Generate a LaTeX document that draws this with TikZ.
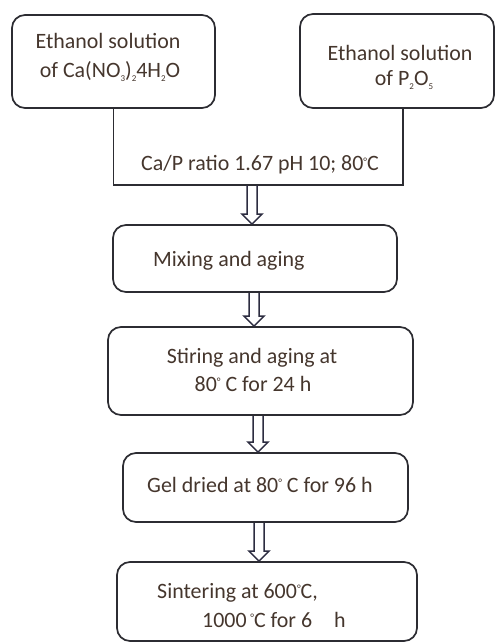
\documentclass[tikz,border=0pt]{standalone}
\usepackage{fontspec}
\setmainfont{Carlito}
\usetikzlibrary{calc}
\definecolor{ink}{HTML}{45362D}
\definecolor{edge}{HTML}{2C2C32}
\definecolor{arrowink}{HTML}{2C2C40}
% small lowered subscript and small raised degree sign
\newcommand\sbs[1]{\raisebox{-0.35ex}{\fontsize{9}{9}\selectfont #1}}
\newcommand\dgr{\raisebox{0.55ex}{\fontsize{11}{11}\selectfont\textdegree}}
% hollow block arrow between two named points: #1 = x position (bp)
\newcommand\flowarrow[3]{%
  \draw[flow] let \p1=(#2), \p2=(#3) in
    (#1bp-5bp,\y1) -- (#1bp-5bp,\y2+10bp) -- (#1bp-10bp,\y2+10bp) --
    (#1bp,\y2) -- (#1bp+10bp,\y2+10bp) -- (#1bp+5bp,\y2+10bp) -- (#1bp+5bp,\y1);}
\begin{document}
\begin{tikzpicture}[x=1bp,y=-1bp,
  box/.style={draw=edge, line width=1.7bp, rounded corners=13bp, inner sep=0pt},
  lbl/.style={text=ink, font=\fontsize{22}{26}\selectfont, inner sep=0pt},
  link/.style={draw=edge, line width=1.7bp},
  flow/.style={draw=arrowink, line width=1.5bp, line join=miter}]
\useasboundingbox (0,0) rectangle (497,644);

\coordinate (ubr) at (403,185);
\coordinate (jB) at (403,108);

% boxes
\node[box, minimum width=203bp, minimum height=93bp] (srcA) at (113.5,61.5) {};
\node[box, minimum width=194bp, minimum height=94bp] (srcB) at (397,61) {};
\node[box, minimum width=284bp, minimum height=67bp] (mix) at (255,258.5) {};
\node[box, minimum width=305bp, minimum height=88bp] (stir) at (260.5,371) {};
\node[box, minimum width=285bp, minimum height=69bp] (gel) at (265.5,487.5) {};
\node[box, minimum width=300bp, minimum height=79bp] (sint) at (267,601.5) {};

% joining bracket under the two solutions
\draw[link] (srcA.south) |- (ubr) -- (jB);

% flow arrows
\flowarrow{252}{ubr}{mix.north}
\flowarrow{254}{mix.south}{stir.north}
\flowarrow{258}{stir.south}{gel.north}
\flowarrow{259}{gel.south}{sint.north}

% labels
\node[lbl, anchor=base] (tA1) at (108,49) {Ethanol solution};
\node[lbl, anchor=base] (tA2) at (110,78) {of Ca(NO\sbs{3})\sbs{2}4H\sbs{2}O};
\node[lbl, anchor=base] (tB1) at (400,61) {Ethanol solution};
\node[lbl, anchor=base] (tB2) at (404,86) {of P\sbs{2}O\sbs{5}};
\node[lbl, anchor=base] (tR) at (260,171) {Ca/P ratio 1.67 pH 10; 80\dgr C};
\node[lbl, anchor=base west] (tM) at (153,266) {Mixing and aging};
\node[lbl, anchor=base] (tS1) at (252,363) {Stiring and aging at};
\node[lbl, anchor=base] (tS2) at (253,391) {80\dgr\ C for 24 h};
\node[lbl, anchor=base west] (tG) at (147,492) {Gel dried at 80\dgr\ C for 96 h};
\node[lbl, anchor=base west] (tN1) at (157,598) {Sintering at 600\dgr C,};
\node[lbl, anchor=base west] (tN2) at (202,627) {1000\,\dgr C for 6\quad h};
\end{tikzpicture}
\end{document}
